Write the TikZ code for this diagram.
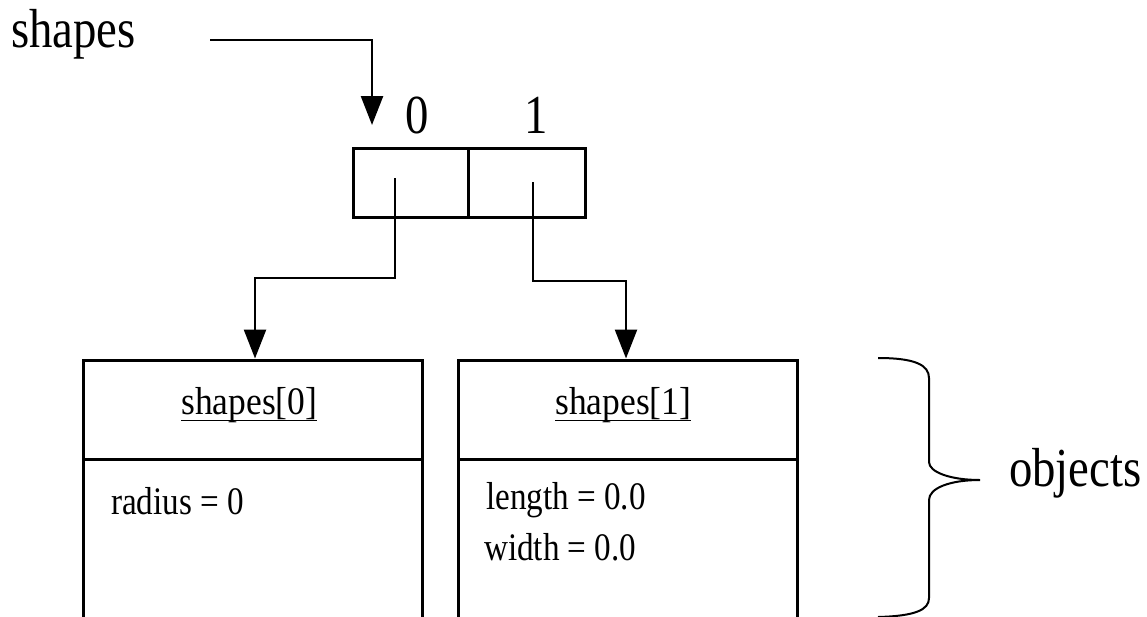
\documentclass[tikz,border=0pt]{standalone}
\usepackage{fontspec}
\setmainfont{Liberation Serif}
\newfontfamily\narrowserif[FakeStretch=0.85]{Liberation Serif}
\newfontfamily\headserif[FakeStretch=0.91]{Liberation Serif}
\usetikzlibrary{arrows.meta}

% underlined object name, with the rule set close below the baseline
\newcommand{\objname}[1]{\underline{\raisebox{0pt}[\height][5pt]{#1}}}

\tikzset{
  cellbox/.style={draw, line width=3pt, inner sep=0pt, minimum height=69pt},
  objbox/.style={draw, line width=3pt, inner sep=0pt, minimum width=339pt},
  ptr/.style={draw, line width=2.5pt, -{Triangle[width=22pt,length=29pt]}},
  bigtext/.style={inner sep=0pt, font=\narrowserif\fontsize{55}{60}\selectfont},
  headtext/.style={inner sep=0pt, font=\headserif\fontsize{39}{44}\selectfont},
  smalltext/.style={inner sep=0pt, font=\narrowserif\fontsize{39}{44}\selectfont},
  bracepath/.style={draw, line width=2pt}
}

\begin{document}
\begin{tikzpicture}[x=1pt,y=-1pt]
  \useasboundingbox (0,0) rectangle (1147,616);
  \clip (0,0) rectangle (1147,616);

  % array variable and its two cells
  \node[bigtext, anchor=base west] (var) at (11,47) {shapes};
  \node[cellbox, minimum width=115pt] (c0) at (410.5,182.5) {};
  \node[cellbox, minimum width=117pt] (c1) at (526.5,182.5) {};
  \node[bigtext, anchor=base] (i0) at (417,133) {0};
  \node[bigtext, anchor=base] (i1) at (536,133) {1};

  % reference from the variable to the array
  \coordinate (s0) at (210,40);
  \coordinate (t0) at (372,125);
  \draw[ptr] (s0) -| (t0);

  % the two objects
  \node[objbox, minimum height=99pt] (h0) at (252.5,409.5) {};
  \node[objbox, minimum height=181pt] (b0) at (252.5,549.5) {};
  \node[objbox, minimum height=99pt] (h1) at (627.5,409.5) {};
  \node[objbox, minimum height=181pt] (b1) at (627.5,549.5) {};

  \node[headtext, anchor=base west] (n0) at (181,414) {\objname{shapes[0]}};
  \node[headtext, anchor=base west] (n1) at (555,414) {\objname{shapes[1]}};
  \node[smalltext, anchor=base west] (r0) at (111,514) {radius = 0};
  \node[smalltext, anchor=base west] (l1) at (486,509) {length = 0.0};
  \node[smalltext, anchor=base west] (w1) at (484,560) {width = 0.0};

  % references from the cells to the objects
  \coordinate (p0) at (395,178);
  \coordinate (j0) at (255,278);
  \draw[ptr] (p0) |- (j0) -- (j0 |- h0.north);
  \coordinate (p1) at (533,182);
  \coordinate (j1) at (626,281);
  \draw[ptr] (p1) |- (j1) -- (j1 |- h1.north);

  % brace grouping the objects
  \draw[bracepath] (878,358) .. controls (915,358) and (929,365) .. (929,378)
    -- (929,462) .. controls (929,472) and (950,480) .. (980,480)
    .. controls (950,480) and (929,488) .. (929,500)
    -- (929,598) .. controls (929,610) and (915,616) .. (878,617);
  \node[bigtext, anchor=base west] (obj) at (1009,486) {objects};
\end{tikzpicture}
\end{document}
